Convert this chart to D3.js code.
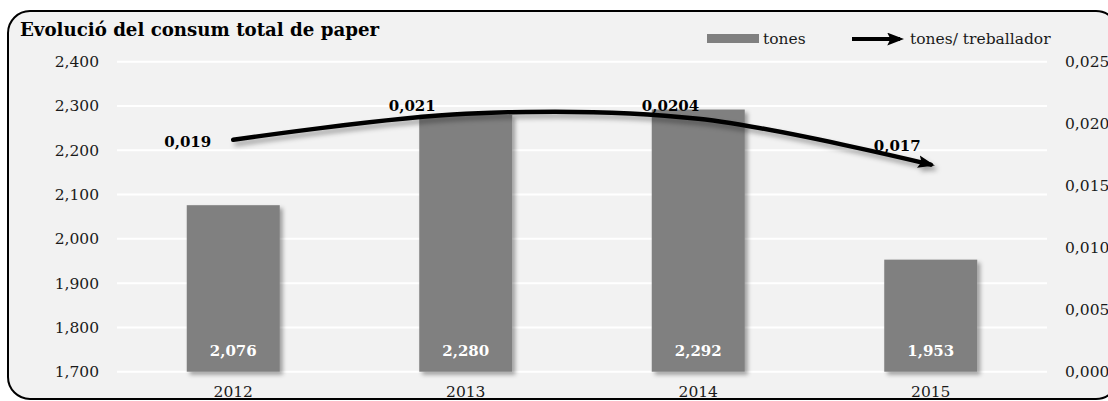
<!DOCTYPE html>
<html>
<head>
<meta charset="utf-8">
<script src="https://cdn.jsdelivr.net/npm/d3@7"></script>
<style>
  body { margin: 0; background: #fff; }
  svg { display: block; }
  text { font-family: "DejaVu Serif", serif; }
</style>
</head>
<body>
<svg width="1108" height="401"></svg>
<script>
// data
var years = ["2012", "2013", "2014", "2015"];
var tones = [2076, 2280, 2292, 1953];
var tonesPerWorker = [0.0187, 0.0208, 0.0204, 0.0167];
var ratioLabels = ["0,019", "0,021", "0,0204", "0,017"];
var leftTicks = [1700, 1800, 1900, 2000, 2100, 2200, 2300, 2400];
var rightTicks = [0, 0.005, 0.010, 0.015, 0.020, 0.025];

var svg = d3.select("svg");
var plotLeft = 117, plotRight = 1047, plotTop = 61.7, plotBottom = 371.7;

var defs = svg.append("defs");
defs.append("filter").attr("id", "barShadow")
    .attr("x", "-20%").attr("y", "-20%").attr("width", "140%").attr("height", "140%")
    .append("feDropShadow")
    .attr("dx", 3).attr("dy", 3).attr("stdDeviation", 2)
    .attr("flood-color", "#000").attr("flood-opacity", 0.35);
defs.append("filter").attr("id", "lineShadow")
    .attr("x", "-10%").attr("y", "-50%").attr("width", "120%").attr("height", "200%")
    .append("feDropShadow")
    .attr("dx", 3).attr("dy", 4).attr("stdDeviation", 2.5)
    .attr("flood-color", "#000").attr("flood-opacity", 0.35);
defs.append("marker").attr("id", "arrow")
    .attr("viewBox", "0 0 16 12")
    .attr("refX", 12).attr("refY", 6)
    .attr("markerWidth", 17).attr("markerHeight", 13)
    .attr("markerUnits", "userSpaceOnUse")
    .attr("orient", "auto")
    .append("path").attr("d", "M0,0 L16,6 L0,12 L3,6 Z").attr("fill", "#000");

// frame
svg.append("rect")
    .attr("x", 8).attr("y", 11)
    .attr("width", 1110).attr("height", 388)
    .attr("rx", 22).attr("ry", 22)
    .attr("fill", "#f2f2f2")
    .attr("stroke", "#000").attr("stroke-width", 2);

var x = d3.scaleBand().domain(years).range([plotLeft, plotRight])
    .paddingInner(0.6).paddingOuter(0.3);
var y = d3.scaleLinear().domain([1700, 2400]).range([plotBottom, plotTop]);
var y2 = d3.scaleLinear().domain([0, 0.025]).range([plotBottom, plotTop]);

// grid
svg.append("g").selectAll("line")
    .data(leftTicks)
    .enter().append("line")
    .attr("x1", plotLeft).attr("x2", plotRight)
    .attr("y1", d => y(d)).attr("y2", d => y(d))
    .attr("stroke", "#fff").attr("stroke-width", 2);

// axes
var gl = svg.append("g")
    .attr("transform", "translate(" + plotLeft + ",0)")
    .call(d3.axisLeft(y).tickValues(leftTicks).tickFormat(d3.format(",")).tickSize(0).tickPadding(18));
var gr = svg.append("g")
    .attr("transform", "translate(" + plotRight + ",0)")
    .call(d3.axisRight(y2).tickValues(rightTicks)
        .tickFormat(d => d3.format(".3f")(d).replace(".", ","))
        .tickSize(0).tickPadding(18));
var gx = svg.append("g")
    .attr("transform", "translate(0," + plotBottom + ")")
    .call(d3.axisBottom(x).tickSize(0).tickPadding(14));
[gl, gr, gx].forEach(function (g) {
    g.select(".domain").remove();
    g.selectAll("text")
        .attr("font-family", "DejaVu Serif")
        .attr("font-size", 15.5)
        .attr("fill", "#1a1a1a");
});

// bars
svg.append("g").selectAll("rect")
    .data(tones)
    .enter().append("rect")
    .attr("x", (d, i) => x(years[i]))
    .attr("y", d => y(d))
    .attr("width", x.bandwidth())
    .attr("height", d => plotBottom - y(d))
    .attr("fill", "#808080")
    .attr("filter", "url(#barShadow)");

svg.append("g").selectAll("text")
    .data(tones)
    .enter().append("text")
    .attr("x", (d, i) => x(years[i]) + x.bandwidth() / 2)
    .attr("y", 356)
    .attr("text-anchor", "middle")
    .attr("font-size", 15)
    .attr("font-weight", "bold")
    .attr("fill", "#fff")
    .text(d => d3.format(",")(d));

// line
var pts = tonesPerWorker.map((d, i) => [x(years[i]) + x.bandwidth() / 2, y2(d)]);
var line = d3.line().curve(d3.curveCatmullRom.alpha(0.5));
svg.append("path")
    .attr("d", line(pts))
    .attr("fill", "none")
    .attr("stroke", "#000")
    .attr("stroke-width", 4.5)
    .attr("stroke-linecap", "round")
    .attr("marker-end", "url(#arrow)")
    .attr("filter", "url(#lineShadow)");

var labelShift = [[-22, 7], [-30, -3], [1, -8], [-10, -14]];
svg.append("g").selectAll("text")
    .data(ratioLabels)
    .enter().append("text")
    .attr("x", (d, i) => pts[i][0] + labelShift[i][0])
    .attr("y", (d, i) => pts[i][1] + labelShift[i][1])
    .attr("text-anchor", "end")
    .attr("font-size", 15)
    .attr("font-weight", "bold")
    .attr("fill", "#000")
    .text(d => d);

// title
svg.append("text")
    .attr("x", 20).attr("y", 36)
    .attr("font-size", 18.2)
    .attr("font-weight", "bold")
    .attr("fill", "#000")
    .text("Evolució del consum total de paper");

// legend
svg.append("rect")
    .attr("x", 707).attr("y", 34).attr("width", 52).attr("height", 9)
    .attr("fill", "#808080");
svg.append("text")
    .attr("x", 763).attr("y", 44)
    .attr("font-size", 15.5).attr("fill", "#1a1a1a")
    .text("tones");
svg.append("line")
    .attr("x1", 852).attr("x2", 900).attr("y1", 39).attr("y2", 39)
    .attr("stroke", "#000").attr("stroke-width", 4)
    .attr("marker-end", "url(#arrow)");
svg.append("text")
    .attr("x", 910).attr("y", 44)
    .attr("font-size", 15.5).attr("fill", "#1a1a1a")
    .text("tones/ treballador");
</script>
</body>
</html>
